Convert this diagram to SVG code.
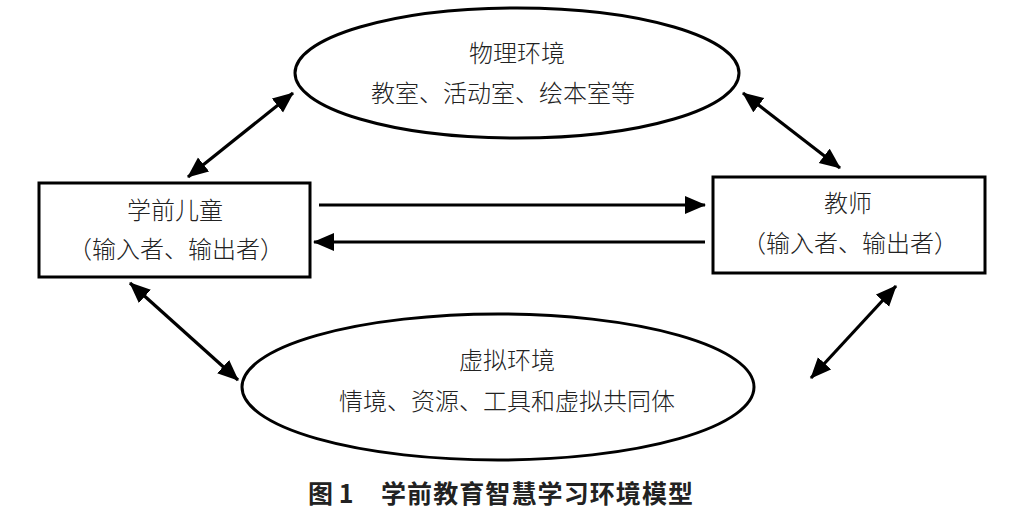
<svg xmlns="http://www.w3.org/2000/svg" width="1032" height="526" viewBox="0 0 1032 526">
<style>
.shape{fill:#fff;stroke:#000;stroke-width:3}
.conn{stroke:#000;stroke-width:3.2;fill:none;marker-end:url(#ah)}
.bi{marker-start:url(#ah)}
.lbl{font-family:"Noto Sans CJK SC","Noto Sans",sans-serif;font-size:24px;font-weight:300;fill:#222;text-anchor:middle}
.cap{font-family:"Noto Sans CJK SC","Liberation Sans",sans-serif;font-size:25px;font-weight:bold;fill:#222}
</style>
<defs>
<marker id="ah" markerUnits="userSpaceOnUse" markerWidth="22" markerHeight="20" viewBox="0 0 22 20" refX="20" refY="9" orient="auto-start-reverse">
<path d="M0,0 L21,9 L0,18 z" fill="#000"/>
</marker>
</defs>
<rect width="1032" height="526" fill="#fff"/>
<g id="node-physical">
<ellipse class="shape" cx="517" cy="73" rx="222" ry="65"/>
<text class="lbl" x="517" y="62">物理环境</text>
<text class="lbl" x="503" y="102">教室、活动室、绘本室等</text>
</g>
<g id="node-child">
<rect class="shape" x="39" y="183" width="271" height="94"/>
<text class="lbl" x="175" y="219">学前儿童</text>
<text class="lbl" x="176" y="258">（输入者、输出者）</text>
</g>
<g id="node-teacher">
<rect class="shape" x="713" y="177" width="272" height="96"/>
<text class="lbl" x="848" y="212">教师</text>
<text class="lbl" x="850" y="252">（输入者、输出者）</text>
</g>
<g id="node-virtual">
<ellipse class="shape" cx="498" cy="387" rx="256" ry="73"/>
<text class="lbl" x="507" y="369">虚拟环境</text>
<text class="lbl" x="507" y="410">情境、资源、工具和虚拟共同体</text>
</g>
<g id="connectors">
<line class="conn bi" x1="188" y1="177" x2="293" y2="93"/>
<line class="conn bi" x1="743" y1="93" x2="840" y2="168"/>
<line class="conn bi" x1="130" y1="283" x2="238" y2="380"/>
<line class="conn bi" x1="896" y1="286" x2="811" y2="378"/>
<line class="conn" x1="319" y1="205" x2="705" y2="205"/>
<line class="conn" x1="705" y1="242" x2="314" y2="242"/>
</g>
<g id="caption">
<text class="cap" x="308" y="503">图 1</text>
<text class="cap" x="381" y="503" textLength="312">学前教育智慧学习环境模型</text>
</g>
</svg>
